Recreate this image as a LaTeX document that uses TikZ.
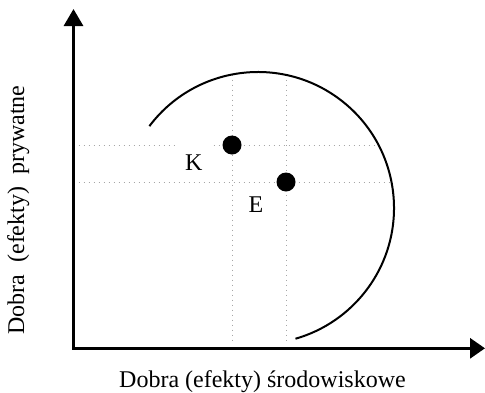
\documentclass[tikz,border=0pt]{standalone}
\usepackage{fontspec}
\setmainfont{Liberation Serif}
\usetikzlibrary{arrows.meta, calc}

\begin{document}
\begin{tikzpicture}[x=0.5pt, y=0.5pt, every node/.style={font=\fontsize{12}{14}\selectfont}]
    \tikzstyle{axis} = [line width=1.5pt, {Triangle[length=8.5pt, width=9.5pt]}-{Triangle[length=7.5pt, width=10pt]}]
    \tikzstyle{guide} = [dotted, draw=gray!70, line width=0.5pt]
    \tikzstyle{point} = [circle, fill=black, minimum size=9.5pt, inner sep=0pt]
    \useasboundingbox (0,0) rectangle (485,392);

    % axes corners and circle centre
    \coordinate (O) at (73.5,43.7);
    \coordinate (ytip) at (73.5,383);
    \coordinate (xtip) at (485,43.7);
    \coordinate (C) at (258,184);

    % guide ends on the arc
    \coordinate (hK) at (378.5,247);
    \coordinate (hE) at (391.5,210);
    \coordinate (vK) at (232,317.5);
    \coordinate (vE) at (286,317.1);

    % Guides
    \draw [guide] (O |- hK) -- (hK);
    \draw [guide] (O |- hE) -- (hE);
    \draw [guide] (vK) -- (vK |- 0,49);
    \draw [guide] (vE) -- (vE |- 0,49);
    \node (K) [fill=white, inner xsep=3.5pt, text width=10.5pt, align=left, minimum height=19.5pt] at (195.5,229.5) {K};
    \node (E) at (256,187) {E};
    \node (pK) [point] at (vK |- hK) {};
    \node (pE) [point] at (vE |- hE) {};

    % Curve
    \draw [line width=1pt] ($(C)+(143:136)$) arc[start angle=143, end angle=-74, radius=136];

    % Axes
    \draw [axis] (ytip) -- (O) -- (xtip);
    \node (xlab) [anchor=base] at (262.5,5) {Dobra (efekty) środowiskowe};
    \node (ylab) [anchor=base, rotate=90] at (24,182) {Dobra\hspace{3pt} (efekty)\hspace{3pt} prywatne};
\end{tikzpicture}
\end{document}
